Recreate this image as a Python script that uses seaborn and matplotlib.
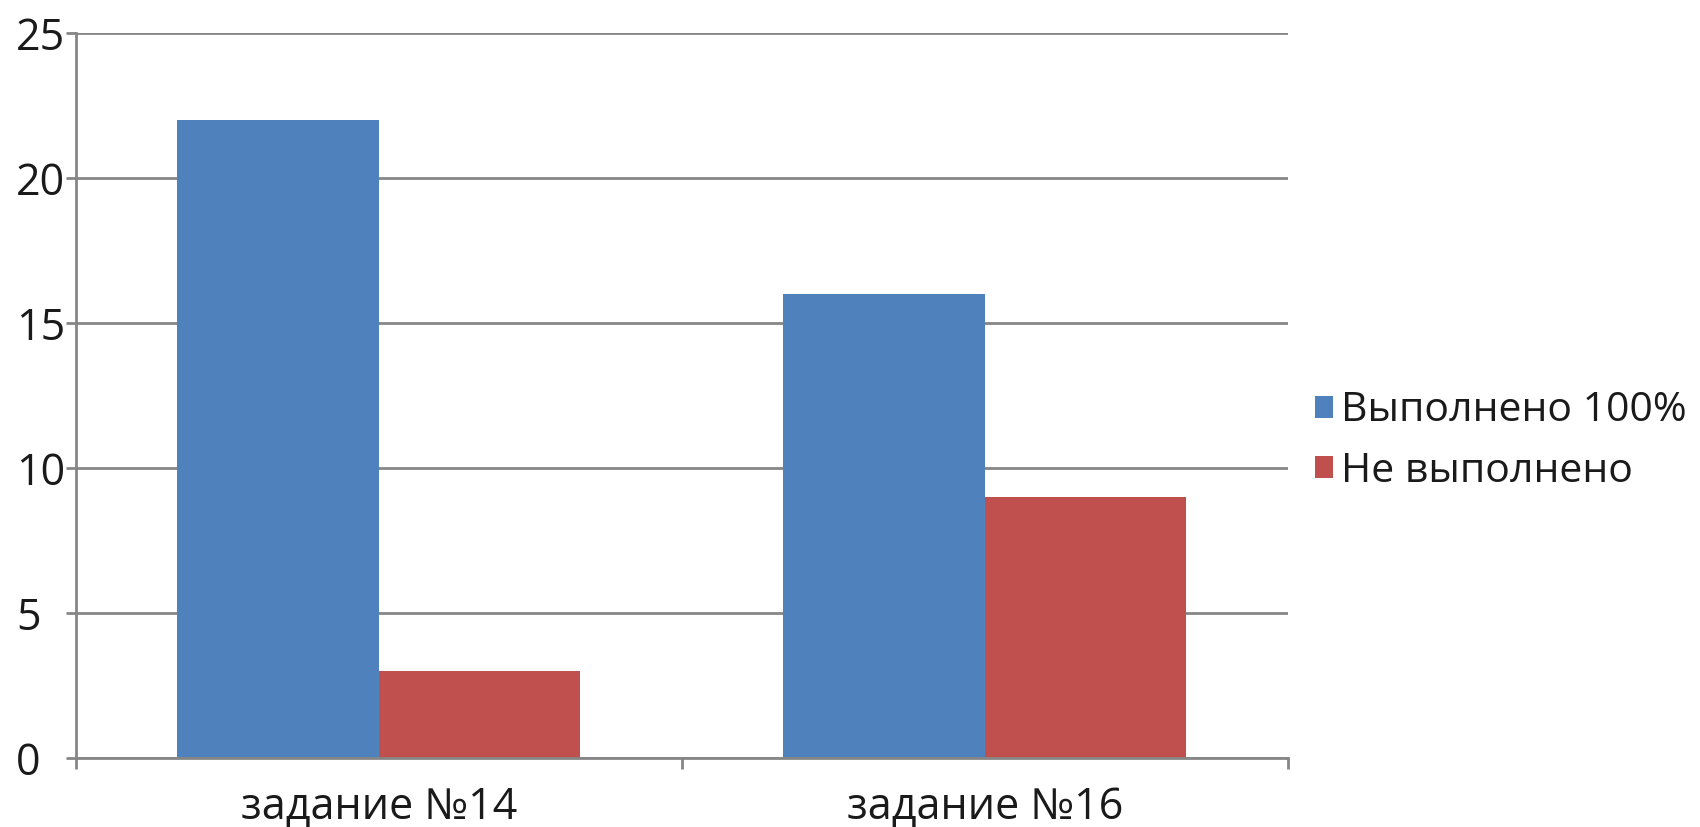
import matplotlib
matplotlib.use("Agg")
import matplotlib.pyplot as plt
import seaborn as sns
import pandas as pd
from matplotlib.ticker import FixedLocator, NullFormatter

categories = ["задание №14", "задание №16"]
series_names = ["Выполнено 100%", "Не выполнено"]
done_full = [22, 16]
not_done = [3, 9]
y_ticks = [0, 5, 10, 15, 20, 25]

colors = ["#4F81BD", "#C0504D"]

df = pd.DataFrame({
    "Задание": categories * 2,
    "Серия": [series_names[0]] * 2 + [series_names[1]] * 2,
    "Значение": done_full + not_done,
})

sns.set_style("white")
plt.rcParams["font.family"] = ["Open Sans", "DejaVu Sans"]

fig = plt.figure(figsize=(17, 8.27), dpi=100)
ax = fig.add_axes([0.0447, 0.0834, 0.7129, 0.8766])

sns.barplot(data=df, x="Задание", y="Значение", hue="Серия",
            palette=colors, width=0.665, saturation=1, ax=ax,
            edgecolor="none")

ax.set_xlim(-0.5, 1.5)
ax.set_ylim(0, 25)
ax.set_yticks(y_ticks)
ax.yaxis.grid(True, color="#868686", linewidth=2)
ax.set_axisbelow(True)
ax.set_xlabel("")
ax.set_ylabel("")

for side in ["top", "right"]:
    ax.spines[side].set_visible(False)
ax.spines["left"].set_color("#868686")
ax.spines["left"].set_linewidth(2)
ax.spines["bottom"].set_color("#868686")
ax.spines["bottom"].set_linewidth(2)

# excel-like: y labels aligned left near the figure edge
ax.tick_params(axis="y", which="major", direction="out", length=7.2, width=2,
               color="#868686", pad=36, labelsize=31, labelcolor="#1a1a1a",
               left=True)
for lbl in ax.get_yticklabels():
    lbl.set_horizontalalignment("left")

ax.tick_params(axis="x", which="major", length=0, pad=20, labelsize=31,
               labelcolor="#1a1a1a")
ax.xaxis.set_minor_locator(FixedLocator([-0.5, 0.5, 1.5]))
ax.xaxis.set_minor_formatter(NullFormatter())
ax.tick_params(axis="x", which="minor", direction="out", length=8, width=2,
               color="#868686", bottom=True)

ax.legend(loc="center left", bbox_to_anchor=(1.022, 0.437), frameon=False,
          fontsize=29.5, handlelength=0.46, handleheight=0.46,
          handletextpad=0.19, labelspacing=0.48, borderaxespad=0,
          borderpad=0, labelcolor="#1a1a1a")

plt.savefig("out.png", dpi=100)
plt.close()
